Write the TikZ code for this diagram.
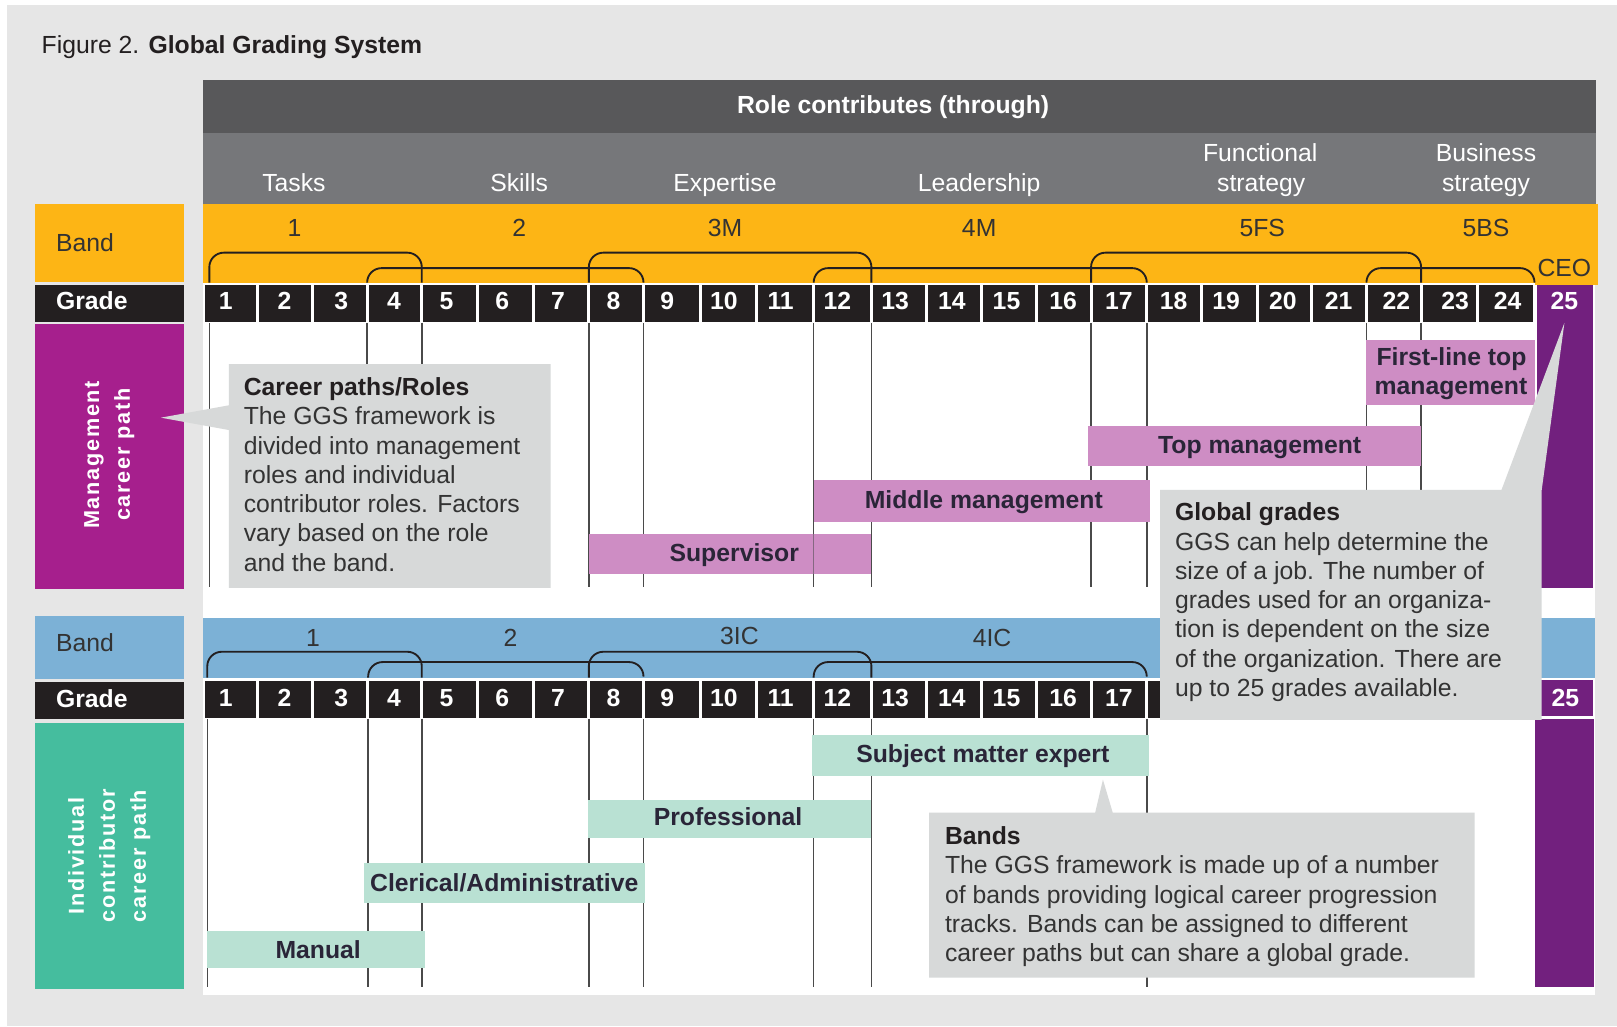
\documentclass[tikz,border=0pt]{standalone}
\usepackage{fontspec}
\setmainfont{Liberation Sans}
\definecolor{pagegray}{HTML}{E6E6E6}
\definecolor{hdrdark}{HTML}{58585A}
\definecolor{hdrlight}{HTML}{76777A}
\definecolor{bandorange}{HTML}{FDB515}
\definecolor{gradeblack}{HTML}{231F20}
\definecolor{mgmtmagenta}{HTML}{A61F8D}
\definecolor{ceopurple}{HTML}{72207E}
\definecolor{rolepink}{HTML}{CE8DC4}
\definecolor{icblue}{HTML}{7CB1D6}
\definecolor{icgreen}{HTML}{45BD9E}
\definecolor{rolemint}{HTML}{B9E1D3}
\definecolor{calloutgray}{HTML}{D7D9D9}
\definecolor{inkgray}{HTML}{333333}
\definecolor{barink}{HTML}{2A2538}
\definecolor{gridgray}{HTML}{4A4A4A}
\newcommand\ggsfont{\fontsize{12}{14.2}\selectfont}
\begin{document}
\begin{tikzpicture}[x=0.5pt,y=-0.5pt,
  txt/.style={inner sep=0pt, anchor=base, font=\ggsfont, text=inkgray},
  whitetxt/.style={txt, text=white},
  gradenum/.style={inner sep=0pt, anchor=base, font=\ggsfont\bfseries, text=white},
  roletxt/.style={inner sep=0pt, anchor=base, font=\ggsfont\bfseries, text=barink},
  sidelbl/.style={inner sep=0pt, rotate=90, align=center, text=white,
    font=\bfseries\fontsize{10.5}{15}\selectfont\addfontfeature{LetterSpace=8}},
  calltxt/.style={inner sep=0pt, anchor=base west, text=inkgray},
  gridline/.style={draw=gridgray, line width=0.75pt},
  bracket/.style={draw=gradeblack, line width=0.9pt, rounded corners=7},
]
\useasboundingbox (0,0) rectangle (1568,995);
\fill[white] (0,0) rectangle (1568,995);
\fill[pagegray] (7,5) rectangle (1568,995);

% title
\node[txt, anchor=base west, text=gradeblack] (title) at (40,52)
  {Figure 2. \textbf{Global Grading System}};

% header rows
\fill[hdrdark] (197,78) rectangle (1548,129);
\fill[hdrlight] (197,129) rectangle (1548,198);
\node[whitetxt, font=\ggsfont\bfseries] (roles) at (866,110.5) {Role contributes (through)};
\node[whitetxt] (tasks) at (285,186) {Tasks};
\node[whitetxt] (skills) at (503.5,186) {Skills};
\node[whitetxt] (expertise) at (703,186) {Expertise};
\node[whitetxt] (leadership) at (949.5,186) {Leadership};
\node[whitetxt] (functionalA) at (1222,157) {Functional};
\node[whitetxt] (functionalB) at (1223,185.5) {strategy};
\node[whitetxt] (businessA) at (1441,157) {Business};
\node[whitetxt] (businessB) at (1441,185.5) {strategy};

% management band strip
\fill[bandorange] (197,198) rectangle (1550,274);
\fill[bandorange] (1488,198) rectangle (1550,276);

% chart area
\fill[white] (197,274) rectangle (1547,965);
\fill[bandorange] (1488,270) rectangle (1550,276);

% left label column
\fill[bandorange] (34,198) rectangle (178,273);
\fill[gradeblack] (34,276) rectangle (178,312);
\fill[mgmtmagenta] (34,314) rectangle (178,571);
\fill[icblue] (34,597) rectangle (178,658);
\fill[gradeblack] (34,661) rectangle (178,697);
\fill[icgreen] (34,701) rectangle (178,959);
\node[txt, anchor=base west] (bandM) at (54,244) {Band};
\node[whitetxt, anchor=base west, font=\ggsfont\bfseries] (gradeM) at (54,300.6) {Grade};
\node[txt, anchor=base west] (bandI) at (54,632) {Band};
\node[whitetxt, anchor=base west, font=\ggsfont\bfseries] (gradeI) at (54,686.5) {Grade};
\node[sidelbl] (mgmtpath) at (106,441) {Management\\career path};
\node[sidelbl] (icpath) at (106,830) {Individual\\contributor\\career path};

% individual contributor band strip
\fill[icblue] (197,599) rectangle (1547,657);

% grade cells (grades 18-24 of the lower row lie under the callout)
\foreach \n/\a/\b/\c in {1/197/250/219, 2/250/303/276, 3/303/356/331, 4/356/409/382,
  5/409/463/433, 6/463/517/487, 7/517/571/541, 8/571/624/595, 9/624/679/647,
  10/679/734/702, 11/734/789/757, 12/789/845/812, 13/845/898/868, 14/898/952/923,
  15/952/1005/976, 16/1005/1058/1031, 17/1058/1112/1085, 18/1112/1165/1138,
  19/1165/1219/1189, 20/1219/1272/1244, 21/1272/1325/1298, 22/1325/1378/1354,
  23/1378/1433/1411, 24/1433/1488/1462}{
  \fill[gradeblack] (\a+1.5,276) rectangle (\b-1.5,312);
  \node[gradenum] (mg\n) at (\c,300.6) {\n};
  \fill[gradeblack] (\a+1.5,660) rectangle (\b-1.5,696);
  \ifnum\n<18 \node[gradenum] (ic\n) at (\c,684.6) {\n};\fi
}

% grade 25 column
\fill[ceopurple] (1490,276) rectangle (1545,570);
\node[gradenum] (mg25) at (1517,300.6) {25};
\fill[ceopurple] (1492,659) rectangle (1545,694);
\node[gradenum] (ic25) at (1518,684.6) {25};
\fill[ceopurple] (1488,697) rectangle (1546,957);

% band labels
\node[txt] (b1M) at (285.5,229) {1};
\node[txt] (b2M) at (503.5,229) {2};
\node[txt] (b3M) at (703,229) {3M};
\node[txt] (b4M) at (949.5,229) {4M};
\node[txt] (b5FS) at (1224,229) {5FS};
\node[txt] (b5BS) at (1441,229) {5BS};
\node[txt] (ceo) at (1517,268) {CEO};
\node[txt] (b1I) at (303.5,627) {1};
\node[txt] (b2I) at (495,627) {2};
\node[txt] (b3I) at (717,624.5) {3IC};
\node[txt] (b4I) at (962,627) {4IC};

% band brackets, management path
\foreach \a/\b in {203/409, 571/845, 1058/1378}
  \draw[bracket] (\a,274) -- (\a,245) -- (\b,245) -- (\b,274);
\foreach \a/\b in {356/624, 789/1112, 1325/1488}
  \draw[bracket] (\a,274) -- (\a,260) -- (\b,260) -- (\b,273);
% band brackets, individual contributor path
\foreach \a/\b in {201/409, 571/845}
  \draw[bracket] (\a,657) -- (\a,632) -- (\b,632) -- (\b,657);
\foreach \a/\b in {357/624, 789/1112}
  \draw[bracket] (\a,657) -- (\a,642) -- (\b,642) -- (\b,655);

% grade boundaries below the grade rows
\foreach \x in {203, 356, 409, 571, 624, 789, 845, 1058, 1112, 1325, 1378}
  \draw[gridline] (\x,313) -- (\x,569);
\foreach \x in {201, 357, 409, 571, 624, 789, 845, 1112}
  \draw[gridline] (\x,697) -- (\x,957);

% management roles
\fill[rolepink] (1325,330) rectangle (1488,393);
\node[roletxt] (firstlineA) at (1407.5,354) {First-line top};
\node[roletxt] (firstlineB) at (1407,383) {management};
\fill[rolepink] (1055,413) rectangle (1378,452);
\node[roletxt] (topmgmt) at (1221.5,439.5) {Top management};
\fill[rolepink] (789,465) rectangle (1115,506);
\node[roletxt] (midmgmt) at (954,493.5) {Middle management};
\fill[rolepink] (571,518) rectangle (845,557);
\draw[gridline, opacity=0.55] (789,518) -- (789,557);
\node[roletxt] (supervisor) at (712,544.5) {Supervisor};

% individual contributor roles
\fill[rolemint] (787,713) rectangle (1114,752);
\node[roletxt] (sme) at (953,739.5) {Subject matter expert};
\fill[rolemint] (570,776) rectangle (845,813);
\node[roletxt] (professional) at (706,800) {Professional};
\fill[rolemint] (353,837) rectangle (625,876);
\node[roletxt] (clerical) at (489,864.5) {Clerical/Administrative};
\fill[rolemint] (201,903) rectangle (412,939);
\node[roletxt] (manual) at (308.5,929) {Manual};

% callouts
\fill[calloutgray] (222,353) -- (534,353) -- (534,570) -- (222,570) -- (222,417)
  -- (156,405) -- (222,393) -- cycle;
\node[calltxt] (careertxt) at (236,383.5) {\parbox[t]{300pt}{\ggsfont
  \textbf{\color{gradeblack}Career paths/Roles}\\
  The GGS framework is\\
  divided into management\\
  roles and individual\\
  contributor roles. Factors\\
  vary based on the role\\
  and the band.}};

\fill[calloutgray] (1125,475) -- (1456,475) -- (1517,313) -- (1495,475)
  -- (1495,698) -- (1125,698) -- cycle;
\node[calltxt] (gradestxt) at (1139,505) {\parbox[t]{300pt}{\ggsfont
  \textbf{\color{gradeblack}Global grades}\\
  GGS can help determine the\\
  size of a job. The number of\\
  grades used for an organiza-\\
  tion is dependent on the size\\
  of the organization. There are\\
  up to 25 grades available.}};

\fill[calloutgray] (901,788) -- (1062,788) -- (1069.5,756) -- (1079,788)
  -- (1430,788) -- (1430,948) -- (901,948) -- cycle;
\node[calltxt] (bandstxt) at (916,819) {\parbox[t]{400pt}{\ggsfont
  \textbf{\color{gradeblack}Bands}\\
  The GGS framework is made up of a number\\
  of bands providing logical career progression\\
  tracks. Bands can be assigned to different\\
  career paths but can share a global grade.}};
\end{tikzpicture}
\end{document}
